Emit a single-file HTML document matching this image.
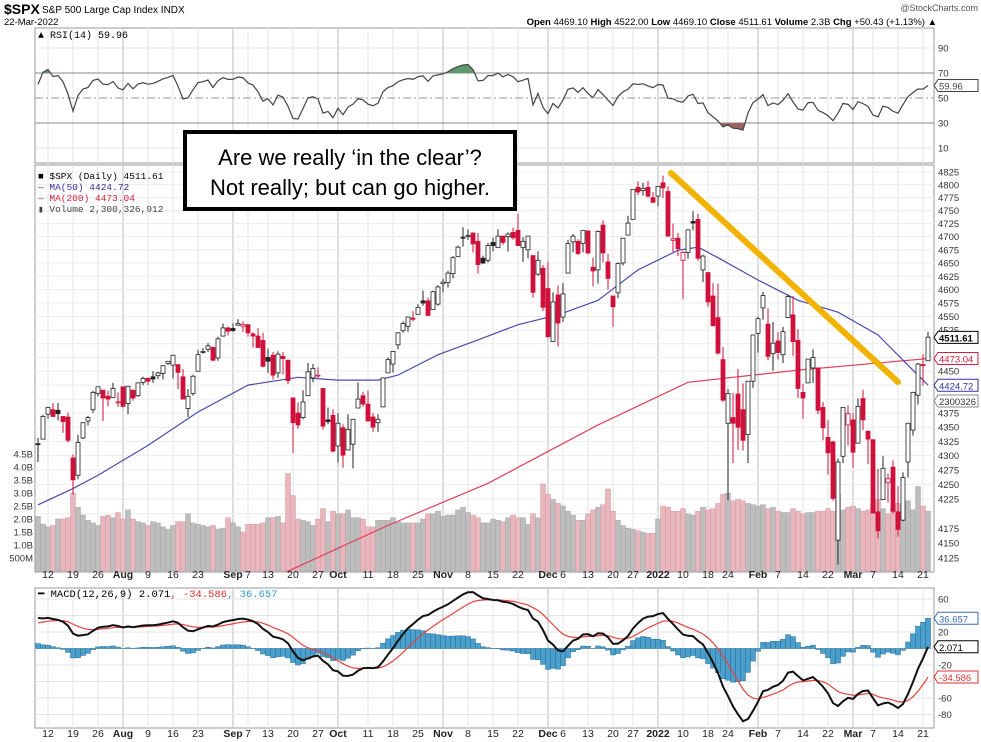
<!DOCTYPE html>
<html><head><meta charset="utf-8"><style>
html,body{margin:0;padding:0;background:#fff;}
svg{display:block;font-family:"Liberation Sans",sans-serif;}
</style></head><body>
<svg id="c" width="981" height="742" viewBox="0 0 981 742" xmlns="http://www.w3.org/2000/svg">
<rect width="981" height="742" fill="#fff"/>
<g>
<text x="4" y="14" font-size="14" font-weight="bold">$SPX</text>
<text x="42" y="13" font-size="10">S&amp;P 500 Large Cap Index INDX</text>
<text x="4" y="25" font-size="9.5">22-Mar-2022</text>
<text x="978" y="11" font-size="9" fill="#555" text-anchor="end">@StockCharts.com</text>
<text x="937" y="25" font-size="9.5" text-anchor="end"><tspan font-weight="bold">Open</tspan> 4469.10 <tspan font-weight="bold">High</tspan> 4522.00 <tspan font-weight="bold">Low</tspan> 4469.10 <tspan font-weight="bold">Close</tspan> 4511.61 <tspan font-weight="bold">Volume</tspan> 2.3B <tspan font-weight="bold">Chg</tspan> +50.43 (+1.13%) ▲</text>
</g>
<g id="grid"></g>
<g id="vol"></g>
<g id="rsi"></g>
<g id="main"></g>
<g id="macd"></g>
<g id="axes"></g>
<g><line x1="671" y1="173" x2="898" y2="382" stroke="#f2b300" stroke-width="6" stroke-linecap="round"/></g>
<g>
<rect x="185" y="132" width="330" height="77" fill="#fff" stroke="#000" stroke-width="4"/>
<text x="350" y="165" font-size="22" text-anchor="middle">Are we really ‘in the clear’?</text>
<text x="350" y="195" font-size="22" text-anchor="middle">Not really; but can go higher.</text>
</g>
</svg>
<script>
const opens=[4321,4329,4373,4381,4380,4369,4368,4296,4266,4331,4361,4381,4410,4416,4405,4403,4395,4422,4392,4416,4406,4430,4437,4440,4442,4446,4464,4461,4462,4440,4383,4410,4450,4484,4490,4493,4474,4514,4529,4528,4534,4532,4535,4518,4514,4506,4475,4479,4447,4477,4470,4402,4375,4367,4406,4438,4442,4419,4363,4371,4317,4349,4310,4320,4384,4406,4391,4368,4358,4386,4447,4463,4498,4524,4532,4547,4554,4579,4579,4563,4573,4611,4613,4630,4662,4699,4702,4707,4691,4659,4655,4689,4679,4701,4700,4708,4712,4679,4675,4664,4629,4640,4602,4504,4590,4549,4631,4690,4691,4687,4711,4642,4637,4722,4652,4588,4594,4650,4703,4733,4795,4789,4795,4775,4778,4804,4787,4693,4697,4655,4670,4729,4733,4637,4632,4588,4548,4471,4357,4367,4409,4381,4337,4432,4519,4566,4536,4482,4505,4480,4548,4553,4506,4412,4429,4456,4456,4385,4332,4324,4155,4299,4354,4363,4322,4401,4343,4328,4203,4224,4253,4280,4203,4189,4289,4345,4407,4462,4469];
const highs=[4331,4372,4386,4393,4393,4369,4376,4302,4337,4359,4370,4415,4422,4416,4415,4429,4412,4422,4423,4416,4430,4440,4439,4450,4449,4461,4468,4480,4462,4454,4418,4444,4489,4492,4501,4495,4513,4537,4531,4537,4545,4541,4535,4521,4529,4520,4491,4485,4486,4485,4471,4402,4394,4416,4465,4463,4457,4419,4385,4382,4375,4355,4373,4365,4430,4413,4415,4375,4373,4439,4475,4487,4521,4541,4549,4560,4573,4598,4585,4598,4608,4620,4635,4663,4683,4718,4714,4708,4707,4664,4688,4698,4714,4701,4708,4717,4744,4699,4702,4664,4672,4646,4652,4595,4608,4612,4694,4705,4695,4713,4711,4660,4712,4731,4667,4588,4651,4697,4740,4791,4807,4804,4808,4786,4796,4818,4797,4725,4707,4673,4714,4749,4744,4666,4632,4612,4611,4494,4418,4411,4454,4428,4432,4517,4550,4596,4565,4540,4521,4531,4591,4588,4527,4427,4472,4490,4456,4395,4363,4326,4295,4385,4389,4375,4401,4417,4343,4328,4277,4299,4269,4292,4247,4271,4357,4413,4465,4481,4522];
const lows=[4289,4329,4365,4368,4362,4340,4323,4233,4259,4329,4353,4375,4405,4361,4387,4403,4386,4385,4373,4397,4404,4425,4425,4429,4436,4435,4461,4437,4418,4400,4368,4406,4450,4482,4485,4468,4469,4513,4515,4522,4533,4522,4513,4493,4493,4457,4447,4435,4438,4444,4427,4305,4347,4364,4406,4430,4437,4346,4355,4306,4288,4279,4310,4278,4384,4386,4360,4342,4342,4386,4447,4448,4490,4520,4522,4541,4554,4570,4551,4563,4570,4595,4604,4621,4662,4681,4694,4670,4630,4648,4651,4672,4679,4684,4672,4694,4682,4652,4659,4585,4626,4560,4510,4504,4495,4540,4631,4670,4665,4670,4666,4606,4611,4651,4600,4531,4584,4645,4703,4733,4780,4779,4775,4765,4758,4774,4700,4671,4663,4582,4658,4712,4654,4614,4568,4532,4480,4395,4223,4287,4310,4309,4287,4420,4484,4544,4470,4451,4471,4465,4548,4478,4402,4365,4429,4429,4373,4327,4267,4222,4114,4287,4318,4279,4322,4345,4285,4201,4158,4224,4219,4200,4161,4187,4262,4335,4390,4424,4469];
const closes=[4320,4369,4385,4369,4374,4360,4327,4258,4323,4358,4367,4412,4422,4402,4400,4419,4395,4387,4423,4402,4429,4437,4432,4436,4447,4460,4468,4479,4448,4400,4405,4441,4480,4486,4496,4470,4509,4529,4523,4524,4537,4535,4520,4514,4493,4459,4468,4443,4481,4473,4433,4358,4354,4395,4449,4455,4443,4352,4360,4308,4357,4301,4346,4364,4400,4391,4361,4350,4364,4438,4471,4486,4520,4537,4549,4545,4567,4575,4552,4596,4605,4614,4631,4660,4680,4697,4702,4686,4647,4650,4683,4683,4701,4689,4705,4698,4683,4691,4701,4595,4655,4567,4513,4577,4538,4592,4687,4701,4668,4712,4669,4635,4710,4669,4621,4568,4649,4697,4726,4791,4786,4793,4778,4766,4797,4794,4701,4696,4677,4670,4713,4726,4659,4663,4577,4533,4483,4398,4410,4357,4350,4327,4432,4516,4546,4589,4477,4501,4484,4522,4587,4504,4419,4402,4472,4475,4380,4349,4305,4226,4289,4385,4374,4306,4387,4363,4329,4201,4171,4278,4260,4204,4173,4262,4357,4412,4463,4461,4512];
const volumes=[2.1,1.8,1.7,1.75,2.0,2.0,2.05,3.0,2.45,2.15,1.95,1.85,1.75,2.1,2.15,2.05,2.25,2.0,2.35,2.0,1.9,1.85,1.75,1.9,1.85,1.7,1.6,1.75,1.9,1.9,2.2,1.85,1.8,1.75,1.7,1.75,1.6,1.65,2.05,1.85,1.7,1.5,1.8,1.8,1.8,1.85,2.05,2.05,2.1,1.85,3.75,2.9,2.0,1.95,1.9,1.75,2.0,2.4,1.9,2.3,2.2,2.2,2.35,2.05,2.05,2.0,1.7,1.7,1.95,1.95,1.95,2.05,1.9,1.85,1.85,1.85,1.85,2.0,2.2,2.2,2.3,2.1,2.15,2.15,2.35,2.45,2.25,2.15,2.05,1.85,1.85,2.0,1.95,1.9,2.05,2.15,2.05,2.05,1.8,2.2,2.05,3.35,2.95,2.75,2.6,2.5,2.3,2.15,1.95,1.95,2.2,2.35,2.45,2.55,3.15,2.3,1.95,1.75,1.65,1.6,1.55,1.5,1.45,1.45,2.0,2.5,2.45,2.3,2.3,2.4,2.2,2.15,2.3,2.45,2.35,2.4,2.6,2.95,3.0,2.7,2.75,2.7,2.6,2.55,2.5,2.55,2.4,2.45,2.3,2.25,2.25,2.4,2.3,2.2,2.25,2.25,2.3,2.3,2.4,2.3,2.95,2.35,2.45,2.5,2.4,2.3,2.35,2.55,2.75,2.4,2.2,2.4,2.6,2.55,2.7,2.35,3.25,2.5,2.3];
const ma50Idx=[0,7,12,22,32,42,52,60,68,72,80,88,96,104,112,120,128,132,136,144,152,160,168,174,178];
const ma50Val=[4215,4243,4266,4318,4377,4425,4439,4434,4434,4443,4480,4507,4535,4553,4580,4637,4674,4680,4660,4618,4580,4558,4516,4461,4425];
const ma200Idx=[46,50,70,90,112,130,152,178];
const ma200Val=[4080,4103,4180,4252,4354,4430,4452,4473];
const tickIdx=[2,7,12,17,22,27,32,39,42,46,51,56,60,66,71,76,81,86,91,96,102,105,110,115,119,124,129,134,138,144,148,153,158,163,167,172,177];
const tickText=["12","19","26","Aug","9","16","23","Sep","7","13","20","27","Oct","11","18","25","Nov","8","15","22","Dec","6","13","20","27","2022","10","18","24","Feb","7","14","22","Mar","7","14","21"];
const priceTicks=[4125,4150,4175,4200,4225,4250,4275,4300,4325,4350,4375,4400,4425,4450,4475,4500,4525,4550,4575,4600,4625,4650,4675,4700,4725,4750,4775,4800,4825];
const volTicks=[0.5,1.0,1.5,2.0,2.5,3.0,3.5,4.0,4.5];
const volTickText=["500M","1.0B","1.5B","2.0B","2.5B","3.0B","3.5B","4.0B","4.5B"];
const rsiTicks=[10,30,50,70,90];
const macdTicks=[-80,-60,-40,-20,0,20,40,60];

const NS="http://www.w3.org/2000/svg";
const PL=35,PR=934;
const X=i=>38+i*5;
const LK=386/Math.log(4825/4125);
const Yp=p=>172+Math.log(4825/p)*LK;
const Yv=v=>571-v*26;
const Yr=r=>98-(r-50)*1.25;
const Ym=m=>648.5-m*0.825;
function mk(tag,at,parent){const e=document.createElementNS(NS,tag);for(const k in at)e.setAttribute(k,at[k]);parent.appendChild(e);return e;}
const G=id=>document.getElementById(id);

const grid=G('grid');
[[28,163],[165,572],[588,728]].forEach(([t,b],k)=>{
  const r=mk('rect',{x:PL,y:t,width:PR-PL,height:b-t,fill:'#fff',stroke:'#999','stroke-width':1},grid);
  
  
});
tickIdx.forEach((ix,k)=>{
  const month=isNaN(+tickText[k])||tickText[k]==='2022';
  [[28,163],[165,572],[588,728]].forEach(([t,b])=>{
    const l=mk('line',{x1:X(ix),x2:X(ix),y1:t,y2:b,stroke:month?'#bbb':'#e4e4e4','stroke-width':1},grid);
    
    
  });
});
priceTicks.forEach(p=>{const l=mk('line',{x1:PL,x2:PR,y1:Yp(p),y2:Yp(p),stroke:'#ececec'},grid);
  
  });
macdTicks.forEach(m=>{const l=mk('line',{x1:PL,x2:PR,y1:Ym(m),y2:Ym(m),stroke:'#e4e4e4'},grid);
  
  });
rsiTicks.forEach(r=>{const s=(r===30||r===70)?'#888':(r===50?'#999':'#e4e4e4');
  const l=mk('line',{x1:PL,x2:PR,y1:Yr(r),y2:Yr(r),stroke:s,'stroke-dasharray':r===50?'8,3,2,3':'none'},grid);
  
  });

const vol=G('vol');
volumes.forEach((v,i)=>{
  const down=i>0&&closes[i]<closes[i-1];
  const b=mk('rect',{x:X(i)-2.5,y:Yv(v),width:5,height:571-Yv(v),fill:down?'#e8b7be':'#bdbdbd',stroke:down?'#d99aa4':'#a9a9a9','stroke-width':0.5},vol);
  
  
});

const main=G('main');
const cp=mk('clipPath',{id:'mc'},main);mk('rect',{x:PL,y:165,width:PR-PL,height:407},cp);
function poly(ix,vals,col,name){
  const pts=ix.map((i,k)=>X(i)+','+Yp(vals[k])).join(' ');
  const p=mk('polyline',{points:pts,fill:'none',stroke:col,'stroke-width':1.2,'clip-path':'url(#mc)'},main);
  
  
}
poly(ma200Idx,ma200Val,'#e0405a','ma200-line');
poly(ma50Idx,ma50Val,'#4a4ab0','ma50-line');

closes.forEach((c,i)=>{
  const o=opens[i],h=highs[i],l=lows[i];
  const red=i>0&&c<closes[i-1];
  const col=red?'#d0103a':'#222';
  const w=mk('line',{x1:X(i),x2:X(i),y1:Yp(h),y2:Yp(l),stroke:col,'stroke-width':1},main);
  
  
  const top=Yp(Math.max(o,c)),bot=Yp(Math.min(o,c));
  const b=mk('rect',{x:X(i)-2,y:top,width:4,height:Math.max(1,bot-top),fill:c>=o?'#fff':col,stroke:col,'stroke-width':0.8},main);
  
  
});

const rsiG=G('rsi');
let ag=7,al=4.5;const rsi=[];
closes.forEach((c,i)=>{if(i>0){const d=c-closes[i-1];ag=(ag*13+Math.max(d,0))/14;al=(al*13+Math.max(-d,0))/14;}rsi.push(100-100/(1+ag/al));});
const rsiPts=rsi.map((r,i)=>[X(i),Yr(r)]);
const cpa=mk('clipPath',{id:'ra'},rsiG);mk('rect',{x:PL,y:28,width:PR-PL,height:Yr(70)-28},cpa);
const cpb=mk('clipPath',{id:'rb'},rsiG);mk('rect',{x:PL,y:Yr(30),width:PR-PL,height:163-Yr(30)},cpb);
const ptsStr=rsiPts.map(p=>p.join(',')).join(' ');
const fa=mk('polygon',{points:X(0)+','+Yr(70)+' '+ptsStr+' '+X(closes.length-1)+','+Yr(70),fill:'#5e9a6c','clip-path':'url(#ra)'},rsiG);


const fb=mk('polygon',{points:X(0)+','+Yr(30)+' '+ptsStr+' '+X(closes.length-1)+','+Yr(30),fill:'#9e6464','clip-path':'url(#rb)'},rsiG);


const rl=mk('polyline',{points:ptsStr,fill:'none',stroke:'#444','stroke-width':1.2},rsiG);



const mg=G('macd');
let e12=4340,e26=4303,sig=31;const macd=[],sg=[];
closes.forEach((c,i)=>{if(i>0){e12+=(c-e12)*2/13;e26+=(c-e26)*2/27;}const m=e12-e26;if(i>0)sig+=(m-sig)*0.2;macd.push(m);sg.push(sig);});
macd.forEach((m,i)=>{const h=m-sg[i];const y0=Ym(0),y1=Ym(h);
  const b=mk('rect',{x:X(i)-2.5,y:Math.min(y0,y1),width:5,height:Math.abs(y1-y0),fill:'#4a9fcc',stroke:'#2a6f96','stroke-width':0.5},mg);
  
  });
const sl=mk('polyline',{points:sg.map((v,i)=>X(i)+','+Ym(v)).join(' '),fill:'none',stroke:'#e8413c','stroke-width':1.2},mg);


const ml=mk('polyline',{points:macd.map((v,i)=>X(i)+','+Ym(v)).join(' '),fill:'none',stroke:'#111','stroke-width':2},mg);



const ax=G('axes');
function txt(x,y,s,at,name){const t=mk('text',Object.assign({x:x,y:y,'font-size':10},at||{}),ax);t.textContent=s;
  
  return t;}
[578,737].forEach(yy=>tickIdx.forEach((ix,k)=>{
  const bold=isNaN(+tickText[k])||tickText[k]==='2022';
  txt(X(ix),yy,tickText[k],{'text-anchor':'middle','font-weight':bold?'bold':'normal','font-size':10.5,fill:'#222'},'x-tick-label');
}));
const skip=[4500,4475,4425,4200];
priceTicks.forEach(p=>{if(!skip.includes(p))txt(938,Yp(p)+3.5,String(p),{'font-size':9.5,fill:'#333'},'price-tick-label');});
volTicks.forEach((v,k)=>txt(33,Yv(v)+3.5,volTickText[k],{'font-size':9.5,'text-anchor':'end',fill:'#333'},'volume-tick-label'));
rsiTicks.forEach(r=>txt(938,Yr(r)+3.5,String(r),{'font-size':9.5,fill:'#333'},'rsi-tick-label'));
[60,20,-20,-60,-80].forEach(m=>txt(938,Ym(m)+3.5,String(m),{'font-size':9.5,fill:'#333'},'macd-tick-label'));
function box(y,s,col,bold,name){
  const g=mk('g',{},ax);
  
  
  mk('path',{d:`M934 ${y} l4 -6 h40 v12 h-40 z`,fill:'#fff',stroke:col,'stroke-width':1},g);
  const t=mk('text',{x:939,y:y+4,'font-size':9.5,fill:col==='#888'?'#333':col,'font-weight':bold?'bold':'normal'},g);t.textContent=s;
}
box(Yp(4511.61),'4511.61','#000',true,'last-price-tag');
box(Yp(4473.04),'4473.04','#d02040',false,'ma200-tag');
box(Yp(4424.72),'4424.72','#3030a0',false,'ma50-tag');
box(401,'2300326','#888',false,'volume-tag');
box(Yr(59.96),'59.96','#444',false,'rsi-tag');
box(Ym(36.657),'36.657','#3a6fb0',false,'macd-hist-tag');
box(Ym(2.071),'2.071','#000',false,'macd-tag');
box(Ym(-34.586),'-34.586','#e03030',false,'macd-signal-tag');
txt(38,38,'▲ RSI(14) 59.96',{'font-size':10,'font-family':'Liberation Mono, monospace'},'rsi-legend');
txt(38,179,'■ $SPX (Daily) 4511.61',{'font-size':9.5,'font-family':'Liberation Mono, monospace'},'price-legend');
txt(38,190,'— MA(50) 4424.72',{'font-size':9.5,'font-family':'Liberation Mono, monospace',fill:'#3030a0'},'ma50-legend');
txt(38,201,'— MA(200) 4473.04',{'font-size':9.5,'font-family':'Liberation Mono, monospace',fill:'#d02040'},'ma200-legend');
txt(38,212,'▮ Volume 2,300,326,912',{'font-size':9.5,'font-family':'Liberation Mono, monospace',fill:'#444'},'volume-legend');
const ml2=txt(38,597,'',{'font-size':10.5,'font-family':'Liberation Mono, monospace'},'macd-legend');
ml2.innerHTML='<tspan>━ MACD(12,26,9) 2.071</tspan><tspan fill="#e03030">, -34.586</tspan><tspan fill="#3a9ad0">, 36.657</tspan>';
</script>
</body></html>
